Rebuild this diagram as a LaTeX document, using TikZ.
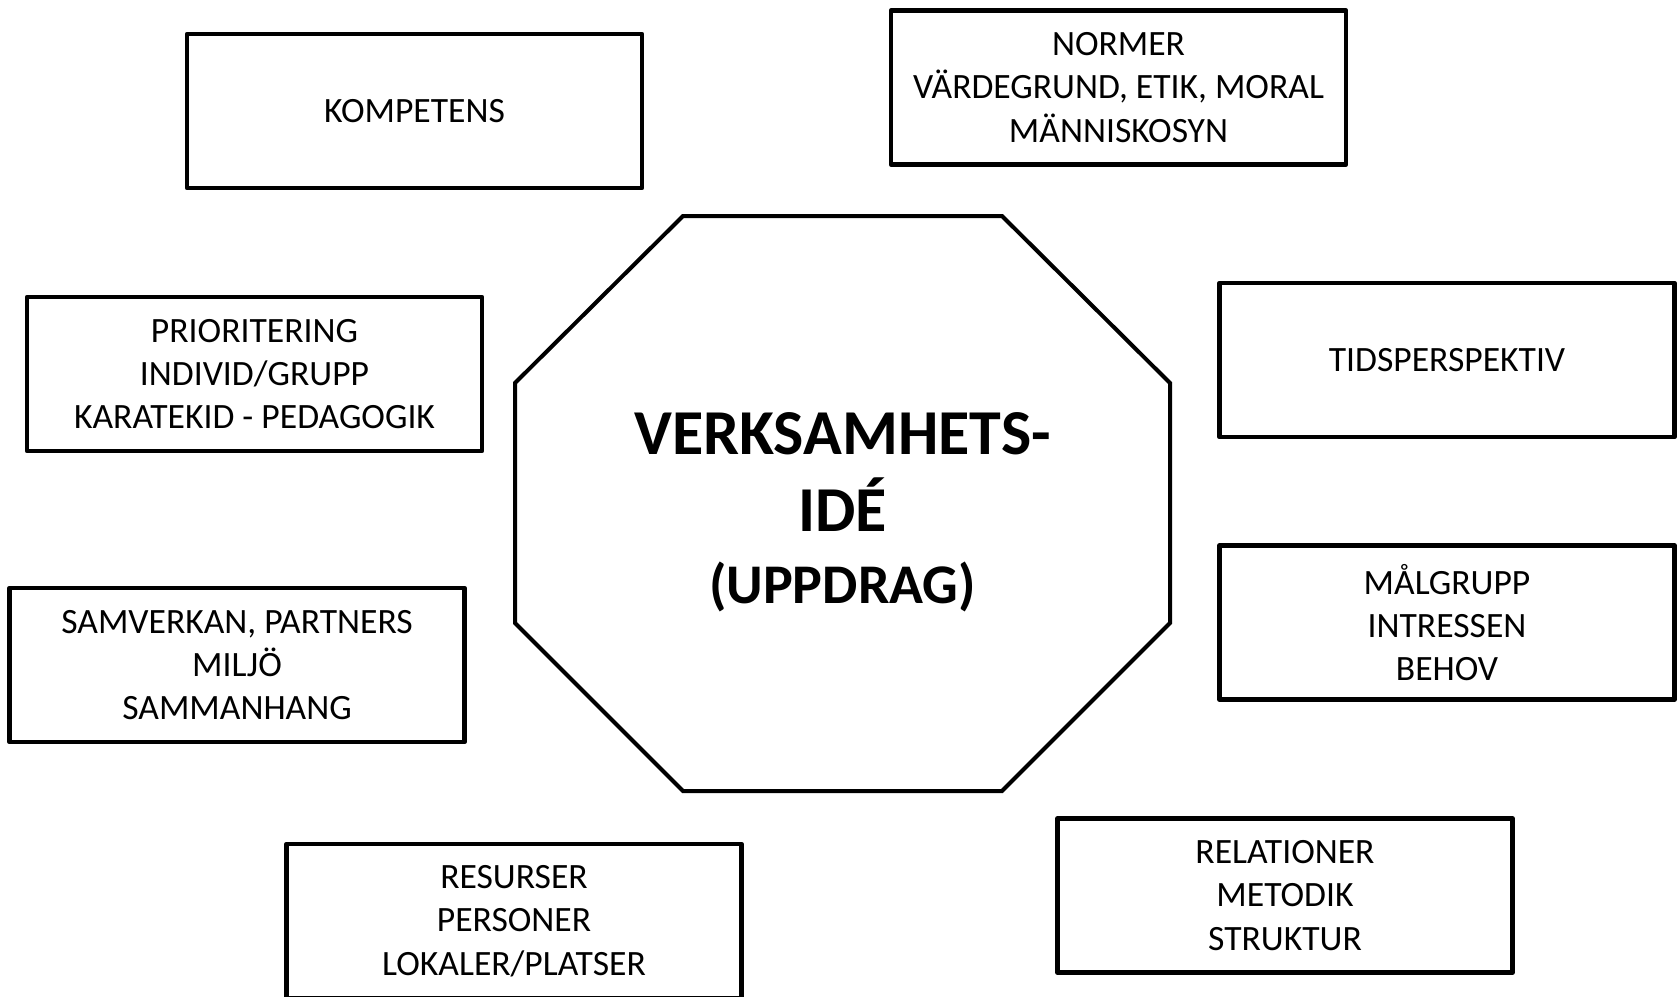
\documentclass[tikz,border=0pt]{standalone}
\usepackage{fontspec}
\setmainfont{Carlito}

\begin{document}
\begin{tikzpicture}[
      x=0.5pt,
      y=-0.5pt,
      box/.style={
          rectangle,
          draw,
          line width=2.25pt,
          line join=round,
          align=center,
          minimum width=227.5pt,
          minimum height=77pt,
          inner sep=0pt,
          font=\fontsize{17.8}{21.6}\selectfont
        },
      octa/.style={
          draw,
          line width=2pt
        },
      title/.style={
          align=center,
          inner sep=0pt,
          font=\fontsize{32}{38.5}\selectfont\bfseries
        }
    ]
    \useasboundingbox (0,0) rectangle (1679,996);

    % Octagon
    \draw[octa] (683,216) -- (1002,216) -- (1170,383) -- (1170,623)
      -- (1002,791) -- (683,791) -- (515,623) -- (515,383) -- cycle;
    \node[title] (ide) at (842.5,512.5) {VERKSAMHETS-\\IDÉ\\[-2.5pt]{\fontsize{28}{33.6}\selectfont (UPPDRAG)}};

    % Boxes
    \node[box] (kompetens) at (414.5,111) {KOMPETENS};
    \node[box] (normer) at (1118.5,87.5) {NORMER\\VÄRDEGRUND, ETIK, MORAL\\MÄNNISKOSYN};
    \node[box] (prio) at (254.5,374) {PRIORITERING\\INDIVID/GRUPP\\KARATEKID - PEDAGOGIK};
    \node[box] (tid) at (1447,360) {TIDSPERSPEKTIV};
    \node[box] (samverkan) at (237,665) {SAMVERKAN, PARTNERS\\MILJÖ\\SAMMANHANG};
    \node[box] (malgrupp) at (1447,622.5) {MÅLGRUPP\\INTRESSEN\\BEHOV};
    \node[box] (resurser) at (514,921) {RESURSER\\PERSONER\\LOKALER/PLATSER};
    \node[box] (relationer) at (1285,895.5) {RELATIONER\\METODIK\\STRUKTUR};

\end{tikzpicture}
\end{document}
